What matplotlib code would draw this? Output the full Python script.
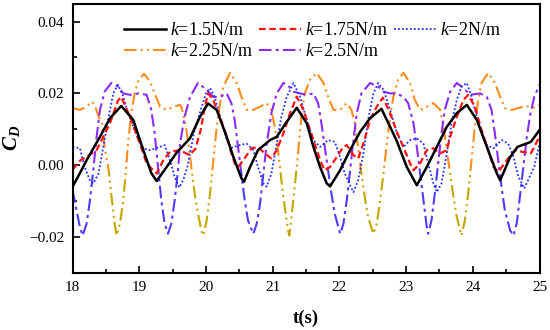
import matplotlib
matplotlib.use("Agg")
import matplotlib.pyplot as plt
from matplotlib.patches import Rectangle
from matplotlib.ticker import MultipleLocator, FuncFormatter

plt.rcParams['font.family'] = ['Liberation Serif', 'DejaVu Serif']
plt.rcParams['mathtext.fontset'] = 'custom'
plt.rcParams['mathtext.rm'] = 'Liberation Serif'
plt.rcParams['mathtext.it'] = 'Liberation Serif:italic'
plt.rcParams['mathtext.bf'] = 'Liberation Serif:bold'
plt.rcParams['mathtext.bfit'] = 'Liberation Serif:italic:bold'

# k=1.5N/m
t_k150 = [18.00, 18.11, 18.21, 18.41, 18.56, 18.73, 18.91, 19.06, 19.18, 19.26,
          19.41, 19.56, 19.76, 19.91, 20.03, 20.16, 20.31, 20.41, 20.53, 20.57,
          20.66, 20.78, 20.96, 21.06, 21.21, 21.36, 21.51, 21.61, 21.71, 21.81,
          21.86, 22.01, 22.16, 22.31, 22.46, 22.63, 22.76, 22.86, 23.01, 23.16,
          23.31, 23.46, 23.61, 23.76, 23.91, 24.06, 24.21, 24.36, 24.41, 24.56,
          24.67, 24.87, 25.00]
cd_k150 = [-0.0060, -0.0022, 0.0014, 0.0079, 0.0131, 0.0165, 0.0126, 0.0042, -0.0022, -0.0044,
           -0.0005, 0.0035, 0.0075, 0.0135, 0.0172, 0.0154, 0.0079, 0.0023, -0.0036, -0.0046,
           -0.0005, 0.0042, 0.0070, 0.0079, 0.0121, 0.0160, 0.0117, 0.0051, -0.0005, -0.0051,
           -0.0059, -0.0014, 0.0042, 0.0093, 0.0131, 0.0157, 0.0107, 0.0067, -0.0005, -0.0056,
           -0.0005, 0.0051, 0.0107, 0.0145, 0.0168, 0.0126, 0.0051, -0.0023, -0.0042, 0.0023,
           0.0051, 0.0065, 0.0098]

# k=1.75N/m
t_k175 = [18.00, 18.12, 18.21, 18.36, 18.46, 18.56, 18.68, 18.73, 18.86, 19.01,
          19.11, 19.18, 19.26, 19.36, 19.46, 19.61, 19.75, 19.84, 19.92, 19.98,
          20.03, 20.10, 20.21, 20.31, 20.38, 20.43, 20.48, 20.56, 20.68, 20.78,
          20.88, 20.98, 21.06, 21.16, 21.26, 21.36, 21.46, 21.56, 21.66, 21.73,
          21.78, 21.86, 21.96, 22.06, 22.11, 22.21, 22.28, 22.36, 22.46, 22.56,
          22.65, 22.75, 22.86, 22.96, 23.06, 23.11, 23.21, 23.31, 23.41, 23.51,
          23.61, 23.66, 23.76, 23.86, 23.93, 24.03, 24.13, 24.23, 24.31, 24.38,
          24.51, 24.63, 24.75, 24.87, 25.00]
cd_k175 = [-0.0012, 0.0014, 0.0023, 0.0042, 0.0079, 0.0117, 0.0180, 0.0190, 0.0135, 0.0060,
           0.0005, -0.0009, -0.0023, 0.0014, 0.0037, 0.0042, 0.0028, 0.0045, 0.0098, 0.0160,
           0.0200, 0.0185, 0.0135, 0.0080, 0.0034, 0.0005, -0.0005, 0.0014, 0.0047, 0.0051,
           0.0033, 0.0019, 0.0042, 0.0089, 0.0145, 0.0191, 0.0154, 0.0098, 0.0042, 0.0005,
           -0.0014, -0.0005, 0.0023, 0.0051, 0.0056, 0.0028, 0.0019, 0.0061, 0.0126, 0.0163,
           0.0188, 0.0150, 0.0093, 0.0050, 0.0005, -0.0014, 0.0005, 0.0042, 0.0047, 0.0033,
           0.0042, 0.0079, 0.0135, 0.0182, 0.0196, 0.0163, 0.0098, 0.0042, -0.0005, -0.0019,
           0.0014, 0.0042, 0.0037, 0.0033, 0.0080]

# k=2N/m
t_k200 = [18.00, 18.11, 18.18, 18.26, 18.31, 18.39, 18.46, 18.54, 18.61, 18.68,
          18.76, 18.83, 18.91, 18.99, 19.06, 19.16, 19.31, 19.38, 19.46, 19.53,
          19.60, 19.66, 19.72, 19.82, 19.92, 20.00, 20.06, 20.13, 20.21, 20.31,
          20.38, 20.51, 20.61, 20.71, 20.78, 20.86, 20.91, 20.98, 21.06, 21.13,
          21.21, 21.31, 21.41, 21.51, 21.61, 21.71, 21.83, 21.93, 22.01, 22.08,
          22.16, 22.21, 22.28, 22.36, 22.43, 22.51, 22.58, 22.66, 22.76, 22.86,
          22.96, 23.06, 23.16, 23.26, 23.33, 23.41, 23.46, 23.53, 23.61, 23.68,
          23.76, 23.83, 23.91, 23.98, 24.06, 24.13, 24.21, 24.31, 24.43, 24.53,
          24.61, 24.68, 24.77, 24.92, 25.00]
cd_k200 = [0.0051, 0.0047, -0.0005, -0.0042, -0.0051, -0.0023, 0.0051, 0.0135, 0.0200, 0.0224,
           0.0191, 0.0145, 0.0107, 0.0070, 0.0047, 0.0042, 0.0051, 0.0056, 0.0014, -0.0033,
           -0.0062, -0.0040, -0.0005, 0.0090, 0.0154, 0.0200, 0.0215, 0.0190, 0.0135, 0.0070,
           0.0048, 0.0056, 0.0060, 0.0042, -0.0005, -0.0051, -0.0060, -0.0023, 0.0060, 0.0135,
           0.0190, 0.0229, 0.0190, 0.0126, 0.0070, 0.0051, 0.0070, 0.0065, 0.0023, -0.0023,
           -0.0056, -0.0075, -0.0042, 0.0033, 0.0126, 0.0200, 0.0229, 0.0210, 0.0154, 0.0090,
           0.0051, 0.0070, 0.0075, 0.0060, 0.0005, -0.0051, -0.0075, -0.0051, 0.0033, 0.0117,
           0.0182, 0.0219, 0.0229, 0.0191, 0.0135, 0.0089, 0.0056, 0.0047, 0.0070, 0.0060,
           0.0023, -0.0030, -0.0065, -0.0005, 0.0060]

# k=2.25N/m
t_k225 = [18.00, 18.11, 18.21, 18.29, 18.34, 18.39, 18.44, 18.48, 18.54, 18.59,
          18.63, 18.66, 18.71, 18.76, 18.80, 18.83, 18.88, 18.93, 18.98, 19.07,
          19.16, 19.23, 19.31, 19.41, 19.51, 19.61, 19.63, 19.68, 19.73, 19.78,
          19.83, 19.88, 19.93, 19.96, 20.01, 20.06, 20.11, 20.16, 20.21, 20.26,
          20.36, 20.46, 20.53, 20.61, 20.71, 20.81, 20.91, 20.98, 21.03, 21.08,
          21.13, 21.18, 21.23, 21.25, 21.28, 21.33, 21.38, 21.43, 21.48, 21.56,
          21.66, 21.76, 21.83, 21.91, 22.01, 22.11, 22.18, 22.23, 22.28, 22.33,
          22.38, 22.43, 22.51, 22.56, 22.61, 22.66, 22.71, 22.76, 22.81, 22.88,
          22.96, 23.06, 23.13, 23.21, 23.31, 23.41, 23.51, 23.56, 23.61, 23.66,
          23.71, 23.76, 23.83, 23.88, 23.93, 23.98, 24.03, 24.08, 24.13, 24.23,
          24.33, 24.41, 24.48, 24.58, 24.70, 24.80, 24.90, 25.00]
cd_k225 = [0.0159, 0.0154, 0.0163, 0.0177, 0.0163, 0.0135, 0.0117, 0.0051, -0.0014, -0.0098,
           -0.0163, -0.0196, -0.0163, -0.0098, -0.0014, 0.0060, 0.0145, 0.0200, 0.0233, 0.0255,
           0.0233, 0.0200, 0.0163, 0.0154, 0.0163, 0.0168, 0.0163, 0.0126, 0.0070, -0.0005,
           -0.0079, -0.0135, -0.0182, -0.0196, -0.0154, -0.0079, 0.0014, 0.0107, 0.0173, 0.0219,
           0.0257, 0.0229, 0.0191, 0.0154, 0.0154, 0.0163, 0.0173, 0.0154, 0.0107, 0.0042,
           -0.0042, -0.0117, -0.0182, -0.0196, -0.0145, -0.0060, 0.0033, 0.0135, 0.0200, 0.0238,
           0.0257, 0.0229, 0.0191, 0.0154, 0.0154, 0.0173, 0.0154, 0.0117, 0.0051, -0.0023,
           -0.0089, -0.0145, -0.0191, -0.0163, -0.0098, -0.0023, 0.0060, 0.0135, 0.0191, 0.0238,
           0.0257, 0.0229, 0.0182, 0.0154, 0.0163, 0.0173, 0.0154, 0.0107, 0.0042, -0.0023,
           -0.0089, -0.0145, -0.0196, -0.0154, -0.0079, 0.0014, 0.0107, 0.0182, 0.0229, 0.0257,
           0.0229, 0.0191, 0.0159, 0.0154, 0.0160, 0.0165, 0.0160, 0.0168]

# k=2.5N/m
t_k250 = [18.00, 18.06, 18.11, 18.15, 18.21, 18.26, 18.31, 18.36, 18.41, 18.48,
          18.58, 18.68, 18.76, 18.86, 18.99, 19.11, 19.18, 19.23, 19.28, 19.33,
          19.38, 19.43, 19.48, 19.53, 19.58, 19.61, 19.68, 19.76, 19.88, 20.01,
          20.11, 20.21, 20.31, 20.38, 20.43, 20.48, 20.53, 20.58, 20.63, 20.71,
          20.76, 20.81, 20.86, 20.91, 20.98, 21.06, 21.16, 21.22, 21.31, 21.41,
          21.51, 21.61, 21.68, 21.73, 21.78, 21.83, 21.88, 21.93, 22.01, 22.06,
          22.11, 22.16, 22.21, 22.26, 22.33, 22.46, 22.58, 22.66, 22.76, 22.86,
          22.96, 23.03, 23.11, 23.16, 23.21, 23.26, 23.31, 23.33, 23.38, 23.43,
          23.48, 23.53, 23.58, 23.66, 23.76, 23.86, 23.96, 24.11, 24.21, 24.28,
          24.33, 24.38, 24.43, 24.48, 24.56, 24.61, 24.66, 24.71, 24.76, 24.81,
          24.86, 24.92, 25.00]
cd_k250 = [-0.0070, -0.0126, -0.0173, -0.0196, -0.0163, -0.0098, -0.0014, 0.0079, 0.0154, 0.0205,
           0.0229, 0.0219, 0.0200, 0.0196, 0.0200, 0.0196, 0.0154, 0.0089, -0.0005, -0.0098,
           -0.0163, -0.0191, -0.0163, -0.0098, -0.0014, 0.0060, 0.0135, 0.0190, 0.0229, 0.0210,
           0.0190, 0.0190, 0.0200, 0.0173, 0.0126, 0.0051, -0.0023, -0.0098, -0.0154, -0.0191,
           -0.0163, -0.0107, -0.0023, 0.0060, 0.0145, 0.0200, 0.0229, 0.0224, 0.0205, 0.0200,
           0.0196, 0.0200, 0.0173, 0.0117, 0.0051, -0.0014, -0.0079, -0.0135, -0.0191, -0.0163,
           -0.0098, -0.0014, 0.0070, 0.0145, 0.0200, 0.0229, 0.0219, 0.0205, 0.0200, 0.0200,
           0.0190, 0.0173, 0.0117, 0.0051, -0.0023, -0.0098, -0.0173, -0.0191, -0.0154, -0.0079,
           0.0005, 0.0089, 0.0154, 0.0205, 0.0229, 0.0215, 0.0196, 0.0200, 0.0190, 0.0154,
           0.0089, 0.0014, -0.0060, -0.0126, -0.0182, -0.0196, -0.0160, -0.0080, 0.0000, 0.0080,
           0.0140, 0.0190, 0.0225]

labels = [r'$k$=1.5N/m', r'$k$=1.75N/m', r'$k$=2N/m', r'$k$=2.25N/m', r'$k$=2.5N/m']

fig = plt.figure(figsize=(5.5, 3.3), dpi=100)
ax = fig.add_axes([0.132, 0.173, 0.849, 0.816])

t_min, t_max = 18, 25
y_min, y_max = -0.03, 0.045
split = -0.001   # colour of the lower parts of the two dash-dot curves changes here

def two_tone(t, v, c_top, c_bot, label, **kw):
    top, = ax.plot(t, v, color=c_top, label=label, **kw)
    bot, = ax.plot(t, v, color=c_bot, **kw)
    top.set_clip_path(Rectangle((t_min, split), t_max - t_min, y_max - split,
                                transform=ax.transData))
    bot.set_clip_path(Rectangle((t_min, y_min), t_max - t_min, split - y_min,
                                transform=ax.transData))
    return top

h4 = two_tone(t_k225, cd_k225, '#FF8C1A', '#C4A800', labels[3],
              lw=1.5, ls=(0, (6, 2, 1, 2, 1, 2)))
h5 = two_tone(t_k250, cd_k250, '#8B2BF5', '#4F3BF5', labels[4],
              lw=1.5, ls=(0, (6, 2, 1.5, 2)))
h3, = ax.plot(t_k200, cd_k200, color='#2030FF', lw=1.3, ls=(0, (1, 1.2)), label=labels[2])
h2, = ax.plot(t_k175, cd_k175, color='#FF1010', lw=1.6, ls=(0, (3, 1.6)), label=labels[1])
h1, = ax.plot(t_k150, cd_k150, color='black', lw=1.8, label=labels[0])

ax.set_xlim(t_min, t_max)
ax.set_ylim(y_min, y_max)
ax.xaxis.set_major_locator(MultipleLocator(1))
ax.xaxis.set_minor_locator(MultipleLocator(0.5))
ax.yaxis.set_major_locator(MultipleLocator(0.02))
ax.yaxis.set_minor_locator(MultipleLocator(0.01))
ax.yaxis.set_major_formatter(FuncFormatter(lambda v, p: ('%.2f' % v).replace('-', '\u2212')))
ax.tick_params(which='both', direction='in', labelsize=11, width=1.2)
ax.tick_params(which='major', length=5, pad=6)
ax.tick_params(which='minor', length=3)
for s in ax.spines.values():
    s.set_linewidth(1.5)

ax.set_xlabel('t(s)', fontsize=13.5, fontweight='bold')
ax.xaxis.set_label_coords(0.5, -0.135)
ax.set_ylabel(r'$\mathbfit{C}_{\mathbfit{D}}$', fontsize=15)
ax.yaxis.set_label_coords(-0.108, 0.5)

# column-major legend, reordered so rows read 1.5,1.75,2 / 2.25,2.5
ax.legend([h1, h4, h2, h5, h3], [labels[0], labels[3], labels[1], labels[4], labels[2]],
          ncol=3, loc='upper left', bbox_to_anchor=(0.11, 0.93), frameon=False,
          fontsize=13, handlelength=2.35, handletextpad=0.2, columnspacing=0.3,
          labelspacing=0.22, borderpad=0, borderaxespad=0)

fig.savefig('out.png', dpi=100)
